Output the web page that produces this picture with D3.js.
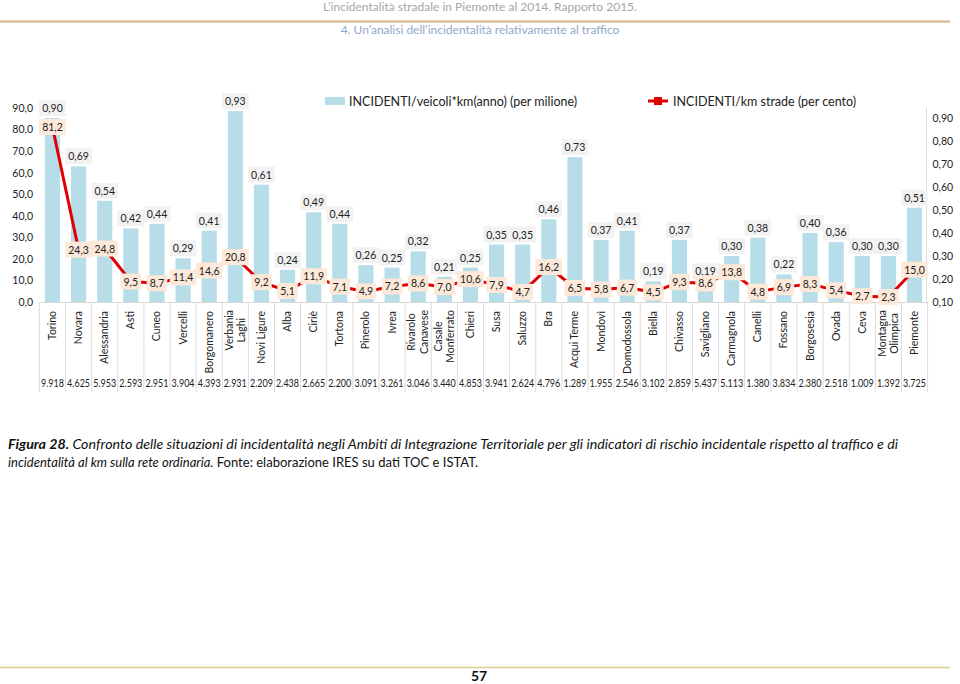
<!DOCTYPE html>
<html><head><meta charset="utf-8">
<script src="https://cdn.jsdelivr.net/npm/d3@7/dist/d3.min.js"></script>
<style>
html,body{margin:0;padding:0;background:#fff;}
svg{display:block;font-family:Lato,"Open Sans",sans-serif;}
</style></head>
<body>
<svg id="c" width="960" height="684"></svg>
<script>
const categories = ["Torino","Novara","Alessandria","Asti","Cuneo","Vercelli","Borgomanero","Verbania\nLaghi","Novi Ligure","Alba","Ciriè","Tortona","Pinerolo","Ivrea","Rivarolo\nCanavese","Casale\nMonferrato","Chieri","Susa","Saluzzo","Bra","Acqui Terme","Mondovì","Domodossola","Biella","Chivasso","Savigliano","Carmagnola","Canelli","Fossano","Borgosesia","Ovada","Ceva","Montagna\nOlimpica","Piemonte"];
const barValues = [0.90,0.69,0.54,0.42,0.44,0.29,0.41,0.93,0.61,0.24,0.49,0.44,0.26,0.25,0.32,0.21,0.25,0.35,0.35,0.46,0.73,0.37,0.41,0.19,0.37,0.19,0.30,0.38,0.22,0.40,0.36,0.30,0.30,0.51];
const lineValues = [81.2,24.3,24.8,9.5,8.7,11.4,14.6,20.8,9.2,5.1,11.9,7.1,4.9,7.2,8.6,7.0,10.6,7.9,4.7,16.2,6.5,5.8,6.7,4.5,9.3,8.6,13.8,4.8,6.9,8.3,5.4,2.7,2.3,15.0];
const kmValues = ["9.918","4.625","5.953","2.593","2.951","3.904","4.393","2.931","2.209","2.438","2.665","2.200","3.091","3.261","3.046","3.440","4.853","3.941","2.624","4.796","1.289","1.955","2.546","3.102","2.859","5.437","5.113","1.380","3.834","2.380","2.518","1.009","1.392","3.725"];
const leftTicks = [0,10,20,30,40,50,60,70,80,90];
const rightTicks = [0.10,0.20,0.30,0.40,0.50,0.60,0.70,0.80,0.90];
const barSeriesName = "INCIDENTI/veicoli*km(anno) (per milione)";
const lineSeriesName = "INCIDENTI/km strade (per cento)";

const svg = d3.select("#c");
const fmt1 = d => d3.format(".1f")(d).replace(".", ",");
const fmt2 = d => d3.format(".2f")(d).replace(".", ",");

// header
svg.append("text").attr("x",480).attr("y",11).attr("text-anchor","middle")
  .attr("font-size",12).attr("fill","#a6a6a6").text("L\u2019incidentalità stradale in Piemonte al 2014. Rapporto 2015.");
svg.append("line").attr("x1",0).attr("x2",950).attr("y1",21.5).attr("y2",21.5).attr("stroke","#d2b57c").attr("stroke-width",2);
svg.append("text").attr("x",480).attr("y",34).attr("text-anchor","middle")
  .attr("font-size",12).attr("fill","#8fa8c8").text("4. Un\u2019analisi dell\u2019incidentalità relativamente al traffico");

const x = d3.scaleBand().domain(categories).range([39.4, 927.6]).paddingInner(0.42).paddingOuter(0.21);
const yL = d3.scaleLinear().domain([0, 90]).range([302, 108]);
const yR = d3.scaleLinear().domain([0.1, 0.9]).range([302, 118]);
const cx = d => x(d) + x.bandwidth()/2;
const r0 = x.range()[0];

// left axis
const gL = svg.append("g").attr("transform","translate(35,0)")
  .call(d3.axisLeft(yL).tickValues(leftTicks).tickFormat(fmt1).tickSize(0).tickPadding(2));
gL.select(".domain").remove();
gL.selectAll("text").attr("font-size",10.5).attr("fill","#222").attr("font-family","Lato,sans-serif");

// right axis
const gR = svg.append("g").attr("transform","translate(926.5,0)")
  .call(d3.axisRight(yR).tickValues(rightTicks).tickFormat(fmt2).tickSize(0).tickPadding(6));
gR.select(".domain").attr("d", `M0,${yL(90)}V${yL(0)}`).attr("stroke","#d9d9d9");
gR.selectAll("text").attr("font-size",10.5).attr("fill","#222").attr("font-family","Lato,sans-serif");

// baseline & category separators
svg.append("line").attr("x1",r0).attr("x2",x.range()[1]).attr("y1",302.5).attr("y2",302.5).attr("stroke","#d9d9d9");
svg.append("g").selectAll("line").data(d3.range(categories.length+1)).join("line")
  .attr("x1",i=>r0 + i*x.step()).attr("x2",i=>r0 + i*x.step())
  .attr("y1",302).attr("y2",392).attr("stroke","#dcdcdc");

// bars
svg.append("g").selectAll("rect").data(categories).join("rect")
  .attr("x",d=>x(d)).attr("width",x.bandwidth())
  .attr("y",(d,i)=>yR(barValues[i])).attr("height",(d,i)=>yR(0.1)-yR(barValues[i]))
  .attr("fill","#b7dde8");

// line
const line = d3.line().x((v,i)=>cx(categories[i])).y(v=>yL(v));
svg.append("path").datum(lineValues).attr("d",line).attr("fill","none")
  .attr("stroke","#e00000").attr("stroke-width",3).attr("stroke-linejoin","round");

function labelWithBox(g, tx, ty, txt, bg, pad) {
  const t = g.append("text").attr("x",tx).attr("y",ty).attr("text-anchor","middle")
    .attr("dominant-baseline","central").attr("font-size",10.5).attr("fill","#222").text(txt);
  const b = t.node().getBBox();
  g.insert("rect","text").attr("x",b.x-pad).attr("y",ty-8).attr("width",b.width+2*pad).attr("height",16).attr("fill",bg);
}
// bar labels
const gBL = svg.append("g");
categories.forEach((c,i)=>{
  const g = gBL.append("g");
  labelWithBox(g, cx(c), yR(barValues[i])-10, fmt2(barValues[i]), "#f2f2f2", 3);
});
// line labels
const gLL = svg.append("g");
categories.forEach((c,i)=>{
  const g = gLL.append("g");
  labelWithBox(g, cx(c), yL(lineValues[i]), fmt1(lineValues[i]), "#fde9d9", 3);
});

// category labels (rotated)
const gC = svg.append("g");
categories.forEach(c=>{
  const lines = c.split("\n");
  const n = lines.length;
  const g = gC.append("g");
  if (n === 1) {
    g.append("text").attr("transform",`translate(${cx(c)+3.5},311) rotate(-90)`)
      .attr("text-anchor","end").attr("font-size",10.5).attr("fill","#222").text(c);
  } else {
    const ts = lines.map((l,k)=> g.append("text").attr("font-size",10.5).attr("fill","#222").attr("text-anchor","middle").text(l));
    const maxW = d3.max(ts, t=>t.node().getComputedTextLength());
    const yc = 310 + maxW/2;
    ts.forEach((t,k)=>{
      const xx = cx(c) + (k-(n-1)/2)*12.5 + 3.5;
      t.attr("transform",`translate(${xx},${yc}) rotate(-90)`);
    });
  }
});

// km row
const kmT = svg.append("g").selectAll("text").data(categories).join("text")
  .attr("x",d=>cx(d)).attr("y",387).attr("text-anchor","middle")
  .attr("font-size",10.8).attr("fill","#222")
  .attr("font-family","'Liberation Sans Narrow','Arial Narrow',Lato,sans-serif")
  .text((d,i)=>kmValues[i]);
kmT.each(function(){
  const w = this.getComputedTextLength();
  if (w > 23.5) {
    const cxv = +this.getAttribute("x");
    d3.select(this).attr("text-anchor","start").attr("x",cxv-11.5).attr("textLength",23).attr("lengthAdjust","spacingAndGlyphs");
  }
});

// legend
svg.append("rect").attr("x",325).attr("y",97).attr("width",20).attr("height",8).attr("fill","#b7dde8");
svg.append("text").attr("x",349).attr("y",101).attr("dominant-baseline","central").attr("font-size",12.5).attr("fill","#222").text(barSeriesName);
svg.append("line").attr("x1",648).attr("x2",668).attr("y1",101).attr("y2",101).attr("stroke","#e00000").attr("stroke-width",3);
svg.append("rect").attr("x",654).attr("y",97).attr("width",8).attr("height",8).attr("fill","#e00000");
svg.append("text").attr("x",673).attr("y",101).attr("dominant-baseline","central").attr("font-size",12.5).attr("fill","#222").text(lineSeriesName);

// caption
const cap1 = svg.append("text").attr("x",8).attr("y",449).attr("font-size",13).attr("fill","#111");
cap1.append("tspan").attr("font-weight","bold").attr("font-style","italic").text("Figura 28.");
cap1.append("tspan").attr("font-style","italic").text(" Confronto delle situazioni di incidentalità negli Ambiti di Integrazione Territoriale per gli indicatori di rischio incidentale rispetto al traffico e di");
cap1.attr("textLength",890).attr("lengthAdjust","spacingAndGlyphs");
const cap2 = svg.append("text").attr("x",8).attr("y",467).attr("font-size",13).attr("fill","#111");
cap2.append("tspan").attr("font-style","italic").text("incidentalità al km sulla rete ordinaria.");
cap2.append("tspan").text(" Fonte: elaborazione IRES su dati TOC e ISTAT.");
cap2.attr("textLength",470).attr("lengthAdjust","spacingAndGlyphs");

// footer
svg.append("line").attr("x1",0).attr("x2",950).attr("y1",667.5).attr("y2",667.5).attr("stroke","#d8cf8c").attr("stroke-width",1.5);
svg.append("text").attr("x",479).attr("y",681).attr("text-anchor","middle").attr("font-size",14).attr("font-weight","bold").attr("fill","#111").text("57");
</script>
</body></html>
